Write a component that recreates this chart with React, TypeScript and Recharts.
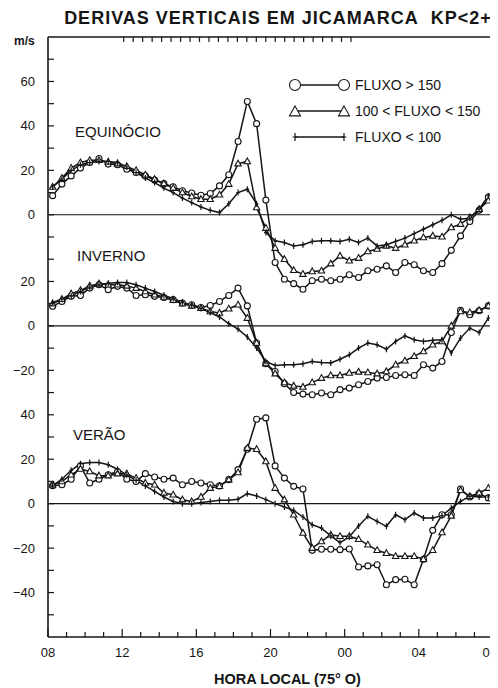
import React from 'react';
import { LineChart, Line, XAxis, YAxis, ReferenceLine, Legend } from 'recharts';

const FONT = '"Liberation Sans", Arial, sans-serif';
const INK = '#151515';

// half-hour bins, local time (hours past midnight of day 1)
const HOURS = [
  8.25, 8.75, 9.25, 9.75, 10.25, 10.75, 11.25, 11.75, 12.25, 12.75, 13.25, 13.75,
  14.25, 14.75, 15.25, 15.75, 16.25, 16.75, 17.25, 17.75, 18.25, 18.75, 19.25, 19.75,
  20.25, 20.75, 21.25, 21.75, 22.25, 22.75, 23.25, 23.75, 24.25, 24.75, 25.25, 25.75,
  26.25, 26.75, 27.25, 27.75, 28.25, 28.75, 29.25, 29.75, 30.25, 30.75, 31.25, 31.75,
];

const SERIES = ['FLUXO > 150', '100 < FLUXO < 150', 'FLUXO < 100'];
const PANELS = ['EQUINÓCIO', 'INVERNO', 'VERÃO'];

// Equinócio (m/s)
const EQ_HIGH = [
  8.6, 13.8, 17.5, 21, 23.5, 25.3, 22.8, 22.5, 20.5, 19, 17.5, 15.6,
  14, 12.6, 10.8, 9.8, 8.8, 9.6, 13, 18, 33, 51, 41, 6.6,
  -21.5, -29, -31, -33.5, -29.7, -29, -29.7, -29, -27, -28.2, -25.2, -24.5,
  -23, -26, -21.5, -22.5, -25.2, -26, -22, -16, -9.5, -3, 2, 8,
];
const EQ_MID = [
  12.5, 16.5, 21, 23.5, 24.5, 24.5, 23.8, 23, 21.8, 20, 18, 16,
  14, 12, 10, 8.2, 7, 7, 9, 13.8, 23, 24, 3.3, -6,
  -15, -20, -25, -26.7, -25.5, -25.2, -22, -18.5, -20.7, -19.5, -16.5, -15.4,
  -14, -15, -13.5, -11.7, -10.2, -9.5, -9.9, -5.7, -4.2, -1.2, 2.5, 6.3,
];
const EQ_LOW = [
  12.5, 16, 20, 22.5, 23.5, 24, 24, 23.5, 21.5, 19, 16.5, 14.5,
  12, 10, 7.5, 5.5, 3.5, 2, 1, 5, 10, 11.5, 5, -8,
  -11.7, -12.5, -14, -13.5, -12, -11.7, -11.7, -12, -11, -12.5, -10.5, -14,
  -13.5, -12, -10.5, -8.5, -6.5, -4.5, -2.5, 0, -2, -1.5, 2.5, 8.5,
];

// Inverno (m/s)
const WI_HIGH = [
  8.8, 11, 13.3, 13.7, 17, 18.5, 16.3, 17.8, 17, 13.7, 14, 13.3,
  12.8, 11.8, 10.3, 9.5, 8.3, 9.2, 11, 13.7, 17, 9, -7.7, -17,
  -20.5, -26, -30, -30.7, -31, -30.2, -31, -28.7, -28, -26.5, -25, -23.5,
  -23.2, -22.3, -22, -22.3, -17.5, -19, -16, -3, 7, 5, 6.8, 9,
];
const WI_MID = [
  10, 12, 14.5, 16, 18, 19, 18.5, 18.5, 18, 17, 15.5, 14,
  13, 11.5, 10, 9, 8, 6.5, 5.8, 7.7, 9.5, 3.5, -7.7, -17,
  -21.5, -25.5, -27, -27.5, -25.5, -23.5, -22.3, -22.3, -21.2, -20.7, -21, -21.5,
  -20.5, -17.5, -15.7, -13.7, -11.5, -8.5, -7, 0, 6.5, 6, 7, 9,
];
const WI_LOW = [
  10.5, 12, 13.5, 15.5, 17.5, 18.5, 19.2, 19.5, 19.5, 18.5, 17, 15.5,
  13.8, 12.2, 10.8, 9.2, 7.8, 6, 4, 1, -1.5, -5, -10, -16,
  -17.8, -17.5, -17.5, -17, -16, -16.5, -16.7, -15, -13, -10, -7.7, -8.5,
  -10.5, -7, -4.5, -6.2, -7, -6.5, -6.2, -12.2, -5.5, -1, -3, 3.5,
];

// Verão (m/s)
const SU_HIGH = [
  8.1, 8.5, 11, 17, 9.3, 11, 13, 14.5, 11, 10, 13.5, 12,
  11, 11.5, 8.5, 10, 9.3, 8.5, 8, 10.8, 15.3, 24.5, 38, 38.6,
  17, 11.5, 7.8, 6.6, -21, -20.5, -20.5, -20.7, -20.4, -28.5, -28, -27.5,
  -36.5, -34.2, -34, -36.5, -25, -12, -5, -5, 6.6, 3, 4.5, 2.6,
];
const SU_MID = [
  8.5, 10, 13, 15.6, 14.5, 12.6, 12.6, 13.5, 13.5, 11.5, 9.3, 8.5,
  4.8, 4, 1.8, 1, 3, 7, 7.8, 10.8, 14, 25, 24.5, 19,
  7, 1.8, -5, -13.2, -20, -17, -14, -14.7, -14.7, -16, -18.5, -21,
  -22.3, -23.7, -23.7, -23.7, -25, -21, -13, -5.5, 6, 3.3, 4.8, 7,
];
const SU_LOW = [
  8, 11, 15, 18, 18.5, 18.5, 17.5, 15.5, 13, 10.5, 8, 5.5,
  3, 1, 0, 0, 0.5, 1, 1.5, 1.5, 2, 4.5, 3.5, 1.8,
  0, -1.5, -3, -6, -9.5, -11, -14.5, -17.5, -15, -10, -5.7, -8,
  -10.2, -5, -7.2, -4.2, -6.4, -6.4, -5.4, -2, 1, 3.3, 3, 3,
];

// the three panels share one vertical axis; each has its own zero
const EQ_ZERO = 130;
const WI_ZERO = 80;
const SU_ZERO = 0;

const X_TICKS = [8, 9, 10, 11, 12, 13, 14, 15, 16, 17, 18, 19, 20, 21, 22, 23, 24, 25, 26, 27, 28, 29, 30, 31, 32];
const X_LABELS: Record<number, string> = { 8: '08', 12: '12', 16: '16', 20: '20', 24: '00', 28: '04', 32: '08' };
const Y_TICKS = [-50, -40, -30, -20, -10, 0, 10, 20, 30, 40, 50, 60, 70, 80, 90, 100, 110, 120, 130, 140, 150, 160, 170, 180, 190, 200];
const Y_LABELS: Record<number, string> = {
  '-40': '\u221240', '-20': '\u221220', 0: '0', 20: '20', 40: '40',
  60: '\u221220', 80: '0', 100: '20',
  130: '0', 150: '20', 170: '40', 190: '60',
};

const rows = HOURS.map((h, i) => ({
  h,
  eqHigh: EQ_HIGH[i] + EQ_ZERO,
  eqMid: EQ_MID[i] + EQ_ZERO,
  eqLow: EQ_LOW[i] + EQ_ZERO,
  wiHigh: WI_HIGH[i] + WI_ZERO,
  wiMid: WI_MID[i] + WI_ZERO,
  wiLow: WI_LOW[i] + WI_ZERO,
  suHigh: SU_HIGH[i] + SU_ZERO,
  suMid: SU_MID[i] + SU_ZERO,
  suLow: SU_LOW[i] + SU_ZERO,
}));

// markers
const circleMark = (cx: number, cy: number, r: number, key?: any) => (
  <circle key={key} cx={cx} cy={cy} r={r} fill="#fff" stroke={INK} strokeWidth={1.1} />
);
const triMark = (cx: number, cy: number, s: number, key?: any) => (
  <path
    key={key}
    d={`M${cx},${cy - s * 1.1}L${cx + s},${cy + s * 0.7}L${cx - s},${cy + s * 0.7}Z`}
    fill="#fff"
    stroke={INK}
    strokeWidth={1.1}
  />
);
const plusMark = (cx: number, cy: number, s: number, key?: any) => (
  <path key={key} d={`M${cx - s * 0.6},${cy}H${cx + s * 0.6}M${cx},${cy - s}V${cy + s}`} stroke={INK} strokeWidth={1.2} fill="none" />
);

const MARKS = [
  (p: any) => circleMark(p.cx, p.cy, 3, p.index),
  (p: any) => triMark(p.cx, p.cy, 3.2, p.index),
  (p: any) => plusMark(p.cx, p.cy, 3, p.index),
];

// axis ticks drawn inward from the frame
const LeftTick = ({ x, y, payload }: any) => {
  const label = Y_LABELS[payload.value];
  return (
    <g>
      <line x1={x} y1={y} x2={x + 6} y2={y} stroke={INK} strokeWidth={1.2} />
      {label && (
        <text x={x - 13} y={y} textAnchor="end" dominantBaseline="central" fontSize={13} fill={INK} fontFamily={FONT}>
          {label}
        </text>
      )}
    </g>
  );
};
const RightTick = ({ x, y }: any) => <line x1={x} y1={y} x2={x - 6} y2={y} stroke={INK} strokeWidth={1.2} />;
const BottomTick = ({ x, y, payload }: any) => {
  const label = X_LABELS[payload.value];
  const last = payload.value === 32;
  return (
    <g>
      <line x1={x} y1={y} x2={x} y2={y - (label ? 8 : 5)} stroke={INK} strokeWidth={1.2} />
      {label && (
        <text
          x={last ? x + 4 : x}
          y={y + 15}
          textAnchor={last ? 'end' : 'middle'}
          dominantBaseline="central"
          fontSize={13}
          fill={INK}
          fontFamily={FONT}
        >
          {label}
        </text>
      )}
    </g>
  );
};
const TopTick = ({ x, y }: any) => <line x1={x} y1={y} x2={x} y2={y + 5} stroke={INK} strokeWidth={1.2} />;

const LegendBox = () => (
  <div style={{ fontFamily: FONT, fontSize: 14, color: INK }}>
    {SERIES.map((name, i) => (
      <div key={name} style={{ display: 'flex', alignItems: 'center', height: 26 }}>
        <svg width={64} height={16}>
          <line x1={7} y1={8} x2={56} y2={8} stroke={INK} strokeWidth={1.5} />
          {i === 0 && [circleMark(7, 8, 5.5, 'a'), circleMark(56, 8, 5.5, 'b')]}
          {i === 1 && [triMark(7, 9, 5.5, 'a'), triMark(56, 9, 5.5, 'b')]}
          {i === 2 && [plusMark(7, 8, 4, 'a'), plusMark(56, 8, 4, 'b')]}
        </svg>
        <span style={{ marginLeft: 3, whiteSpace: 'nowrap' }}>{name}</span>
      </div>
    ))}
  </div>
);

const KEYS = [
  ['eqHigh', 'eqMid', 'eqLow'],
  ['wiHigh', 'wiMid', 'wiLow'],
  ['suHigh', 'suMid', 'suLow'],
];

const PANEL_POS = [
  { left: 67, top: 115 },
  { left: 69, top: 239 },
  { left: 65, top: 418 },
];

export default function App() {
  return (
    <div style={{ position: 'relative', width: 490, height: 680, fontFamily: FONT, color: INK, background: '#fff' }}>
      <div
        style={{
          position: 'absolute', left: 270, top: 0, transform: 'translateX(-50%)',
          fontSize: 18, fontWeight: 'bold', lineHeight: '20px', whiteSpace: 'nowrap', letterSpacing: 1,
        }}
      >
        DERIVAS VERTICAIS EM JICAMARCA&nbsp; KP&lt;2+
      </div>
      <div style={{ position: 'absolute', left: 6, top: 26, fontSize: 12, fontWeight: 'bold', lineHeight: '14px' }}>m/s</div>
      {PANELS.map((p, i) => (
        <div key={p} style={{ position: 'absolute', ...PANEL_POS[i], fontSize: 15, lineHeight: '18px', zIndex: 2 }}>
          {p}
        </div>
      ))}
      <LineChart width={490} height={680} data={rows} margin={{ top: 24, right: 0, bottom: 0, left: 0 }}>
        <XAxis
          dataKey="h"
          type="number"
          domain={[8, 32]}
          ticks={X_TICKS}
          interval={0}
          height={51}
          tickSize={0}
          tickMargin={0}
          tick={BottomTick}
          axisLine={{ stroke: INK, strokeWidth: 1.6 }}
          label={{
            value: 'HORA LOCAL (75° O)', position: 'insideBottom', offset: 4, dx: 17,
            style: { fontSize: 14.5, fontWeight: 'bold', fill: INK, fontFamily: FONT },
          }}
        />
        <XAxis
          xAxisId="top"
          orientation="top"
          type="number"
          domain={[8, 32]}
          ticks={X_TICKS}
          interval={0}
          height={5}
          tickSize={0}
          tickMargin={0}
          tick={TopTick}
          axisLine={{ stroke: INK, strokeWidth: 1.6 }}
        />
        <YAxis
          type="number"
          domain={[-60, 210]}
          ticks={Y_TICKS}
          interval={0}
          width={40}
          tickSize={0}
          tickMargin={0}
          tick={LeftTick}
          axisLine={{ stroke: INK, strokeWidth: 1.6 }}
        />
        <YAxis
          yAxisId="right"
          orientation="right"
          type="number"
          domain={[-60, 210]}
          ticks={Y_TICKS}
          interval={0}
          width={5}
          tickSize={0}
          tickMargin={0}
          tick={RightTick}
          axisLine={{ stroke: INK, strokeWidth: 1.6 }}
        />
        <ReferenceLine y={EQ_ZERO} stroke={INK} strokeWidth={1.1} />
        <ReferenceLine y={WI_ZERO} stroke={INK} strokeWidth={1.1} />
        <ReferenceLine y={SU_ZERO} stroke={INK} strokeWidth={1.1} />
        {KEYS.map((keys) =>
          keys.map((k, j) => (
            <Line
              key={k}
              dataKey={k}
              type="linear"
              stroke={INK}
              strokeWidth={1.5}
              dot={MARKS[j]}
              activeDot={false}
              isAnimationActive={false}
            />
          ))
        )}
        <Legend
          layout="vertical"
          align="center"
          verticalAlign="middle"
          content={LegendBox}
          wrapperStyle={{ left: 280, top: 64, width: 210, height: 80 }}
        />
      </LineChart>
    </div>
  );
}
